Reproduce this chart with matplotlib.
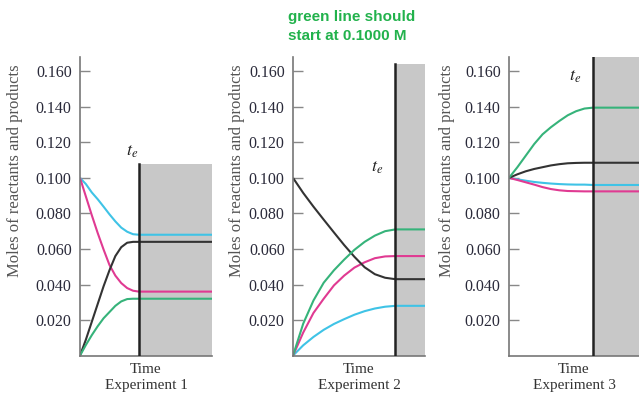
import matplotlib.pyplot as plt

# tempo normalizado (t_e = 1) e fim de cada painel
tempo = [0, 0.1, 0.2, 0.3, 0.4, 0.5, 0.6, 0.7, 0.8, 0.9, 1.0]
t_fim = [2.24, 1.29, 1.55]
topo_cinza = [0.108, 0.164, 0.168]
experimentos = ["Experiment 1", "Experiment 2", "Experiment 3"]

# Experimento 1
ciano1 = [0.100, 0.0965, 0.0918, 0.088, 0.0838, 0.0795, 0.0755, 0.072, 0.0697, 0.0683, 0.068]
magenta1 = [0.100, 0.0895, 0.079, 0.069, 0.0597, 0.051, 0.045, 0.0408, 0.038, 0.0365, 0.036]
preto1 = [0.0, 0.009, 0.019, 0.029, 0.039, 0.048, 0.056, 0.061, 0.0635, 0.064, 0.064]
verde1 = [0.0, 0.006, 0.0115, 0.0165, 0.021, 0.0245, 0.028, 0.0305, 0.0318, 0.032, 0.032]

# Experimento 2
ciano2 = [0.0, 0.0058, 0.0105, 0.0145, 0.0178, 0.0205, 0.023, 0.025, 0.0265, 0.0275, 0.028]
magenta2 = [0.0, 0.013, 0.024, 0.032, 0.0395, 0.045, 0.0495, 0.0525, 0.0548, 0.0558, 0.056]
preto2 = [0.100, 0.0915, 0.0838, 0.0765, 0.0693, 0.0622, 0.0556, 0.0497, 0.0458, 0.0438, 0.043]
verde2 = [0.0, 0.018, 0.031, 0.041, 0.048, 0.054, 0.0595, 0.064, 0.0675, 0.070, 0.071]

# Experimento 3
ciano3 = [0.100, 0.0992, 0.0984, 0.0977, 0.0972, 0.0968, 0.0965, 0.0963, 0.0962, 0.0962, 0.096]
magenta3 = [0.100, 0.0988, 0.0975, 0.0962, 0.0948, 0.0937, 0.093, 0.0926, 0.0925, 0.0924, 0.0924]
preto3 = [0.100, 0.102, 0.1037, 0.105, 0.106, 0.107, 0.1077, 0.1082, 0.1084, 0.1085, 0.1085]
verde3 = [0.100, 0.106, 0.1125, 0.119, 0.1245, 0.1285, 0.132, 0.1352, 0.1375, 0.139, 0.1395]

series = [
    [ciano1, magenta1, preto1, verde1],
    [ciano2, magenta2, preto2, verde2],
    [ciano3, magenta3, preto3, verde3],
]
cores = ["#3fc3e6", "#e03a92", "#333333", "#36b37a"]

yticks = [0.020, 0.040, 0.060, 0.080, 0.100, 0.120, 0.140, 0.160]
ytick_labels = ["0.020", "0.040", "0.060", "0.080", "0.100", "0.120", "0.140", "0.160"]

# posicao do rotulo t_e em cada painel (coordenadas de dados)
pos_te = [(0.78, 0.115), (0.76, 0.106), (0.71, 0.157)]
pos_ylabel = [-0.432, -0.364, -0.415]

plt.rcParams["font.family"] = ["Liberation Serif", "DejaVu Serif"]
plt.rcParams["mathtext.fontset"] = "stix"

fig = plt.figure(figsize=(6.39, 3.97), dpi=100)
lefts = [80, 293, 509]
widths = [132, 132, 130]

for i in range(3):
    ax = fig.add_axes([lefts[i] / 639, 41.4 / 397, widths[i] / 639, 298.6 / 397])
    ax.set_xlim(0, t_fim[i])
    ax.set_ylim(0, 0.168)

    # regiao de equilibrio
    ax.fill_between([1, t_fim[i]], 0, topo_cinza[i], color="#c8c8c8", lw=0, zorder=0)
    ax.plot([1, 1], [0, topo_cinza[i]], color="#222222", lw=1.8, zorder=3)

    for vals, cor in zip(series[i], cores):
        ax.plot(tempo + [t_fim[i]], vals + [vals[-1]], color=cor, lw=1.5, zorder=2,
                solid_capstyle="butt", solid_joinstyle="round")

    ax.text(pos_te[i][0], pos_te[i][1], r"$t_e$", fontsize=13, color="#222222",
            ha="left", va="center")

    for s in ["top", "right"]:
        ax.spines[s].set_visible(False)
    ax.spines["left"].set_color("#777777")
    ax.spines["bottom"].set_color("#777777")
    ax.spines["left"].set_linewidth(1.2)
    ax.spines["bottom"].set_linewidth(1.2)

    ax.set_yticks(yticks)
    ax.set_yticklabels(ytick_labels)
    ax.tick_params(axis="y", direction="in", length=7, width=1, color="#888888",
                   labelsize=11.5, labelcolor="#2a2a3a", pad=6)
    ax.set_xticks([])

    ax.set_ylabel("Moles of reactants and products", fontsize=12, color="#555555")
    ax.yaxis.set_label_coords(pos_ylabel[i], 0.62)
    ax.set_xlabel("Time\n" + experimentos[i], fontsize=11, color="#333333",
                  labelpad=5, linespacing=1.35)

fig.text(288 / 639, 1 - 10 / 397, "green line should\nstart at 0.1000 M",
         color="#22b24c", fontsize=11, fontweight="bold",
         family=["Liberation Sans", "DejaVu Sans"], ha="left", va="top",
         linespacing=1.42)

plt.savefig("out.png", dpi=100)
